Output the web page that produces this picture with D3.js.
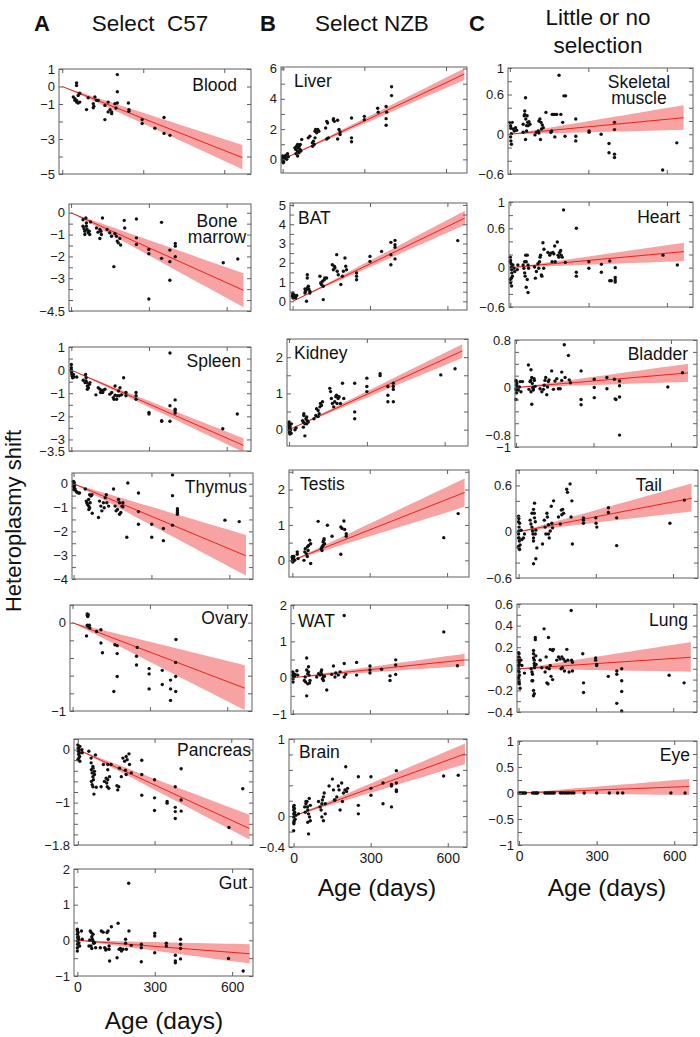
<!DOCTYPE html>
<html><head><meta charset="utf-8">
<script src="https://cdn.jsdelivr.net/npm/d3@7"></script>
<style>body{margin:0;background:#fff}svg{display:block;font-family:"Liberation Sans",Arial,sans-serif}</style>
</head><body><svg id="c" width="700" height="1037"></svg>
<script>
// ---------------- DATA ----------------
const panelNames = ["Blood","Bone\nmarrow","Spleen","Thymus","Ovary","Pancreas","Gut",
  "Liver","BAT","Kidney","Testis","WAT","Brain",
  "Skeletal\nmuscle","Heart","Bladder","Tail","Lung","Eye"];

const blood = [[53,0.21],[53,0.06],[41,-0.6],[47,-0.7],[53,-0.79],[59,-0.51],[63,-0.42],[65,-0.38],[53,-0.89],[59,-0.94],[65,-0.89],[47,-0.79],[90,-1.32],[96,-0.64],[115,-0.98],[115,-1.21],[117,-1.13],[121,-0.6],[127,-0.79],[133,-0.79],[158,-1.08],[158,-1.89],[170,-0.89],[170,-1.45],[177,-1.32],[183,-1.45],[183,-1.55],[195,-0.98],[199,-1.23],[204,0.68],[204,-0.3],[204,-0.94],[245,-0.94],[247,-1.32],[247,-1.42],[296,-1.89],[296,-2.11],[343,-2.38],[377,-1.77],[377,-2.68],[399,-2.79]];
const boneMarrow = [[57,-0.24],[46,-0.32],[46,-0.62],[50,-0.73],[53,-0.85],[59,-0.62],[62,-0.77],[66,-0.92],[70,-0.85],[72,-1.0],[59,-0.47],[53,-1.0],[75,-0.42],[98,-0.7],[104,-0.89],[111,-0.77],[115,-0.85],[117,-1.0],[111,-1.18],[121,-0.24],[139,-0.77],[149,-0.92],[156,-1.08],[169,-0.95],[175,-1.08],[178,-1.3],[188,-1.18],[182,-1.38],[191,-1.48],[205,-0.35],[207,-0.7],[252,-0.29],[252,-1.15],[252,-1.45],[349,-0.44],[402,-1.41],[402,-1.53],[300,-1.68],[300,-1.88],[349,-2.09],[381,-1.71],[381,-2.24],[381,-3.09],[402,-2.01],[165,-2.47],[300,-3.95],[587,-2.29],[643,-2.12]];
const spleen = [[0,0.24],[0,0.1],[0,0],[1,-0.07],[2,-0.16],[3,-0.21],[4,-0.27],[5,-0.33],[8,-0.19],[10,-0.3],[21,-0.3],[46,-0.44],[53,-0.54],[55,-0.19],[57,-0.33],[59,-0.54],[62,-0.69],[66,-0.76],[70,-0.61],[72,-0.54],[62,-0.83],[57,-0.47],[95,-1.07],[104,-0.76],[111,-0.83],[113,-0.97],[117,-0.9],[124,-0.87],[130,-0.83],[121,-0.97],[149,-1.04],[156,-0.97],[162,-1.19],[165,-1.26],[169,-1.09],[178,-1.11],[182,-0.9],[185,-1.11],[188,-0.76],[169,-0.69],[175,-1.26],[194,-1.07],[202,-0.33],[211,-0.97],[211,-1.11],[250,-0.97],[250,-1.11],[250,-1.26],[300,-1.83],[300,-1.9],[349,-2.19],[349,-2.21],[381,0.74],[381,-1.54],[381,-2.21],[401,-1.29],[401,-1.69],[401,-1.76],[401,-1.86],[585,-2.54],[641,-1.9]];
const thymus = [[0,0.1],[0,0.03],[1,-0.04],[0,-0.11],[2,-0.18],[1,-0.25],[3,0.03],[4,-0.08],[6,-0.22],[10,-0.32],[13,-0.36],[19,-0.39],[23,-0.39],[45,-0.22],[49,-0.73],[51,-0.8],[54,-0.87],[58,-0.66],[58,-0.94],[62,-1.01],[64,-0.8],[67,-0.52],[71,-0.46],[62,-0.46],[59,-1.08],[72,-1.24],[96,-1.42],[100,-0.73],[105,-0.94],[109,-1.14],[115,-0.8],[118,-1.01],[122,-0.59],[126,-0.46],[128,-0.8],[135,-0.94],[154,-0.22],[160,-0.94],[164,-1.14],[169,-1.08],[173,-0.66],[177,-0.8],[177,-1.28],[182,-1.21],[186,-0.94],[190,-0.8],[190,-0.97],[205,-2.25],[209,0.03],[250,-0.39],[250,-1.17],[250,-1.7],[301,-1.7],[301,-2.25],[346,-1.88],[346,-2.39],[381,0.37],[381,-0.5],[381,-1.74],[400,-1.05],[400,-1.14],[400,-1.21],[400,-1.28],[583,-1.53],[638,-1.59]];
const ovary = [[57,0.1],[57,0.08],[59,0.07],[61,0.09],[57,-0.03],[61,-0.04],[65,-0.03],[67,-0.06],[54,-0.15],[93,-0.1],[110,-0.08],[110,-0.23],[164,-0.25],[173,-0.26],[251,-0.28],[401,-0.19],[116,-0.34],[173,-0.35],[173,-0.61],[160,-0.78],[248,-0.38],[248,-0.48],[297,-0.52],[297,-0.58],[297,-0.75],[348,-0.54],[348,-0.7],[380,-0.65],[380,-0.75],[380,-0.88],[400,-0.45],[400,-0.61],[400,-0.78]];
const pancreas = [[0,0.09],[1,0.03],[2,-0.03],[3,-0.09],[4,-0.16],[5,0],[6,-0.06],[7,-0.13],[0,-0.19],[8,0.06],[8,-0.22],[16,0],[17,-0.06],[43,-0.03],[52,-0.16],[59,-0.32],[53,-0.38],[56,-0.44],[59,-0.51],[61,-0.57],[53,-0.6],[56,-0.66],[59,-0.7],[63,-0.84],[65,-0.41],[52,-0.25],[59,-0.35],[65,-0.47],[72,-0.71],[69,-0.1],[91,-0.7],[100,-0.28],[104,-0.6],[111,-0.54],[113,-0.63],[117,-0.57],[115,-0.7],[121,-0.73],[124,-0.51],[117,-0.28],[117,-0.38],[130,-0.28],[153,-0.68],[156,-0.76],[160,-0.7],[163,-0.35],[170,-0.51],[176,-0.16],[183,-0.22],[189,-0.13],[193,-0.19],[200,-0.08],[202,-0.28],[209,-0.44],[189,-0.47],[186,-0.39],[250,-0.2],[250,-0.47],[250,-0.86],[300,-0.57],[300,-0.91],[300,-1.15],[349,-0.98],[349,-1.01],[381,-0.7],[381,-1.09],[381,-1.17],[381,-1.3],[404,-0.36],[404,-0.95],[404,-1.16],[591,-1.47],[645,-0.74]];
const gut = [[0,0.26],[0,0.17],[1,0.08],[0,-0.02],[1,-0.11],[0,-0.21],[0,-0.3],[3,0.22],[4,0.1],[5,0.03],[6,-0.07],[9,-0.16],[0,0.31],[16,0.26],[19,0.03],[48,0.01],[50,0.26],[54,0.22],[56,0.1],[58,0.03],[61,-0.02],[63,-0.08],[53,-0.16],[56,-0.23],[61,0.17],[67,-0.07],[71,-0.21],[45,-0.16],[89,-0.21],[93,0.26],[100,0.23],[106,-0.21],[110,-0.27],[112,-0.25],[115,0.22],[119,0.26],[120,0.03],[123,-0.25],[125,-0.58],[132,0.38],[123,-0.16],[154,-0.49],[158,0.48],[162,-0.25],[167,-0.23],[171,-0.3],[177,-0.25],[187,0.03],[187,-0.08],[190,-0.25],[199,1.6],[200,0.26],[209,-0.14],[248,-0.11],[248,-0.21],[248,-0.6],[300,0.2],[300,0.12],[300,-0.35],[345,-0.08],[345,-0.16],[380,-0.42],[380,-0.58],[380,-0.63],[400,0.03],[400,-0.11],[400,-0.23],[400,-0.52],[586,-0.51],[643,-0.86]];
const liver = [[0,0.22],[0,0.11],[0,0],[1,-0.11],[4,-0.17],[6,0.04],[9,0.17],[11,0.26],[0,-0.11],[2,-0.22],[15,0],[18,0.37],[21,0.17],[45,0.76],[48,0.66],[51,0.87],[54,0.55],[55,0.98],[58,0.76],[60,0.44],[64,0.66],[61,0.87],[65,0.98],[67,0.55],[70,1.31],[55,0.22],[49,0.37],[94,1.42],[100,1.53],[109,1.09],[110,0.87],[113,1.2],[116,0.98],[119,1.86],[121,1.97],[125,1.75],[129,1.97],[133,1.86],[119,1.42],[162,2.51],[162,1.35],[165,2.4],[168,1.42],[158,2.07],[186,2.62],[187,2.69],[190,2.51],[202,2.58],[202,1.35],[207,1.97],[211,1.81],[211,1.64],[253,2.73],[253,1.42],[253,1.16],[300,2.84],[300,2.62],[349,3.38],[351,3.12],[380,3.49],[382,3.12],[380,2.69],[380,2.25],[400,4.8],[400,4.21]];
const bat = [[0,0.26],[1,0.35],[2,0.17],[2,0.3],[3,0.23],[6,0.33],[9,0.26],[12,0.17],[1,0.43],[16,0.3],[54,0],[48,0.43],[50,0.52],[54,0.61],[58,0.69],[61,0.78],[63,0.64],[67,0.52],[48,0.64],[57,1.38],[57,1.21],[67,0.43],[106,1.3],[109,0.95],[112,0.87],[116,1.04],[119,0.09],[123,1.12],[125,1.21],[119,0.78],[132,1.21],[154,1.9],[158,1.64],[162,1.82],[164,1.73],[171,2.42],[173,1.56],[177,1.38],[187,0.87],[193,1.3],[203,2.25],[206,1.82],[209,1.64],[197,1.56],[248,1.47],[248,1.3],[248,1.12],[300,2.33],[300,2.07],[345,2.59],[381,2.42],[381,1.9],[397,2.2],[381,3.06],[397,3.16],[397,2.94],[397,2.8],[640,3.15]];
const kidney = [[0,0.16],[0,0.11],[1,0.07],[1,0.02],[2,-0.03],[2,-0.07],[3,-0.12],[4,0.08],[6,-0.01],[9,0.16],[0,0.21],[8,-0.1],[23,0],[27,0.05],[52,0.25],[55,0.21],[57,0.39],[61,0.16],[65,0.3],[68,0.35],[70,0.25],[74,0.21],[55,0.07],[61,-0.17],[57,0.44],[68,0.16],[96,0.3],[103,0.39],[106,0.58],[112,0.53],[116,0.44],[119,0.63],[121,0.72],[125,0.67],[129,0.77],[112,0.36],[157,1.14],[160,1.05],[163,0.86],[167,0.72],[172,0.63],[176,0.77],[180,0.91],[183,0.95],[189,0.86],[193,0.91],[198,0.72],[206,1.28],[211,0.86],[185,0.72],[253,1.28],[253,0.49],[253,0.3],[300,1.42],[300,1.19],[300,1.05],[351,1.54],[351,1.49],[381,1.19],[381,0.95],[381,0.77],[402,1.28],[402,1.19],[402,1.11],[402,0.77],[585,1.51],[640,1.68]];
const testis = [[0,0.11],[0,0.08],[1,0.05],[2,0.02],[1,0.09],[4,0.05],[6,0.11],[9,0],[0,-0.02],[2,-0.05],[19,0.24],[19,0.17],[22,0.05],[45,0],[48,0.24],[50,0.33],[54,0.19],[58,0.38],[61,0.28],[63,0.42],[67,0.57],[71,0.47],[71,-0.09],[58,0.11],[100,1.1],[112,0.33],[115,0.38],[119,0.42],[119,0.52],[122,0.57],[125,0.47],[123,0.61],[115,0.28],[136,0.99],[154,0.68],[188,0.94],[188,0.17],[193,0.9],[200,1.11],[203,0.87],[209,0.75],[209,0.68],[587,0.64],[643,1.32]];
const wat = [[0,0.16],[0,0.07],[1,-0.03],[2,0.02],[3,0.11],[6,0.04],[9,0.09],[1,-0.12],[16,0.19],[19,0.07],[48,0.02],[50,-0.12],[54,0.54],[54,0.21],[58,0.11],[61,0.16],[63,0.07],[67,-0.08],[58,-0.17],[54,-0.5],[61,0.3],[45,-0.08],[65,-0.15],[93,0.02],[100,0.11],[106,0.07],[110,0.16],[112,0.09],[115,-0.03],[119,0.02],[119,-0.08],[112,0.21],[132,-0.34],[123,0.04],[151,0.09],[158,0.32],[164,0.02],[167,0.13],[177,0.07],[184,0.16],[200,0.39],[206,0.09],[200,0.02],[248,0.42],[248,0.07],[300,0.32],[300,0.21],[300,0.13],[345,0.23],[378,0.05],[378,-0.08],[400,0.49],[400,0.35],[400,0.09],[640,0.33],[200,1.71],[587,1.26]];
const brain = [[0,0.12],[0,0.08],[1,0.03],[0,-0.01],[2,-0.06],[1,-0.1],[2,0.03],[3,0.1],[4,0.05],[6,-0.04],[0,-0.19],[9,0.01],[1,-0.08],[2,0.14],[19,0.03],[43,0.12],[45,0.05],[48,0.16],[52,0.19],[54,0.12],[55,0.08],[58,0.03],[61,0.23],[62,-0.01],[65,-0.06],[55,-0.08],[58,-0.23],[48,0.19],[65,0.14],[97,0.19],[103,0.12],[107,0.08],[110,0.16],[112,0.21],[116,0.25],[119,0.3],[116,-0.06],[123,0.03],[123,0.16],[110,-0.01],[138,0.39],[151,0.48],[155,0.34],[159,0.21],[161,0.21],[168,0.25],[174,0.39],[177,0.34],[181,0.08],[187,0.43],[190,0.19],[194,0.3],[200,0.34],[203,0.64],[210,0.36],[206,0.32],[252,0.51],[252,0.14],[252,0.03],[301,0.51],[301,0.36],[301,0.27],[348,0.43],[348,0.16],[381,0.41],[381,0.39],[381,0.12],[400,0.59],[400,0.43],[400,0.34],[400,0.32],[584,0.52],[641,0.53]];
const skeletal = [[0,0.18],[3,0.13],[4,0.09],[6,0.01],[3,-0.04],[4,-0.1],[6,-0.15],[9,0.18],[13,0.08],[17,0.05],[22,0.1],[26,0.06],[51,0.15],[55,0.28],[57,0.35],[57,0.3],[60,0.55],[61,0.23],[64,0.13],[64,0.05],[66,0.28],[68,0.18],[70,0.13],[60,-0.08],[51,0.03],[73,0.19],[77,0.15],[96,-0.01],[102,0.03],[109,0.05],[111,0.2],[115,0.23],[119,0.18],[121,0.08],[124,0.14],[128,0.1],[117,-0.08],[138,0.33],[111,0.02],[157,0.03],[162,0.3],[166,0.3],[172,0.3],[179,0.3],[188,0.89],[195,0.3],[202,0.18],[207,0.58],[213,0.58],[172,-0.04],[211,-0.03],[160,0.05],[252,0.23],[252,-0.03],[252,-0.1],[303,0.05],[303,0.03],[349,0],[379,-0.14],[379,-0.28],[400,0.18],[400,0.07],[400,-0.3],[400,-0.35],[584,-0.54],[638,-0.13]];
const heart = [[0,0.16],[1,0.11],[3,0.06],[4,0.01],[5,-0.03],[6,-0.08],[8,-0.13],[0,-0.18],[1,-0.23],[4,-0.16],[10,0.04],[14,-0.01],[17,-0.06],[0,0.09],[27,-0.03],[29,0.04],[5,-0.28],[49,0.04],[52,-0.01],[55,-0.08],[57,-0.13],[59,0.19],[61,0.09],[65,0.19],[65,-0.18],[68,0.04],[61,-0.3],[68,-0.38],[70,-0.01],[55,0.09],[93,0.01],[96,-0.16],[100,-0.06],[106,0.06],[109,-0.01],[112,0.09],[116,0.19],[119,-0.11],[121,-0.13],[125,0.38],[129,0.28],[114,0.16],[128,-0.01],[144,0.23],[151,0.19],[155,0.22],[160,0.09],[163,0.23],[167,0.21],[170,0.33],[172,0.09],[180,0.39],[183,0.19],[189,0.23],[193,0.26],[195,0.19],[199,0.16],[204,0.88],[211,0.08],[186,0.16],[253,0.6],[253,-0.07],[253,-0.13],[301,0.09],[301,-0.01],[349,0.05],[349,-0.07],[381,0.1],[381,-0.2],[387,-0.2],[402,0],[402,-0.15],[402,-0.19],[402,-0.22],[585,0.19],[640,0.04]];
const bladder = [[0,0.12],[1,0.1],[2,0.04],[0,-0.02],[1,-0.04],[2,-0.09],[3,0.07],[0,-0.2],[6,0],[9,-0.04],[13,0.01],[16,0.1],[19,-0.07],[25,0.1],[48,0.38],[50,-0.03],[54,0.1],[57,0.12],[58,0.3],[61,0.17],[63,0.07],[65,0],[67,-0.04],[70,0.15],[61,-0.28],[67,-0.02],[74,0.02],[58,-0.07],[71,0.12],[93,-0.02],[100,-0.07],[106,-0.03],[109,0.04],[112,0.12],[115,0.17],[119,-0.12],[122,0.01],[125,0.1],[128,0.13],[138,0.28],[145,-0.03],[151,0.11],[158,0.15],[164,-0.02],[171,-0.02],[177,0.26],[177,0.12],[187,0.72],[190,0.17],[203,0.54],[206,0.13],[211,0.08],[252,0.28],[252,-0.2],[252,-0.29],[303,0.14],[303,0],[303,-0.17],[352,0.17],[352,-0.02],[381,0.14],[384,-0.19],[387,-0.2],[401,0.11],[401,0.03],[401,-0.16],[401,-0.8],[588,0.01],[645,0.25]];
const tail = [[0,0.2],[1,0.17],[0,0.13],[2,0.06],[1,0.01],[0,-0.03],[2,-0.08],[3,-0.12],[0,-0.19],[1,-0.21],[4,-0.23],[6,-0.17],[0,-0.08],[13,-0.1],[10,0.02],[19,-0.08],[23,-0.03],[4,0.11],[45,0.15],[48,0.1],[52,0.06],[54,0.01],[56,-0.03],[58,-0.08],[58,0.29],[61,0.24],[62,0.18],[65,0.13],[65,-0.03],[52,0.24],[67,0.02],[71,-0.21],[67,-0.35],[58,-0.415],[58,-0.12],[62,0.37],[93,-0.16],[100,0.15],[103,0.06],[106,-0.03],[110,0.24],[112,0.19],[116,-0.03],[119,-0.08],[116,0.09],[123,0.01],[127,0.33],[129,0.11],[136,0.4],[132,0.05],[155,0.19],[162,0.1],[166,0.28],[168,0.22],[171,0.29],[175,0.24],[187,0.55],[190,0.51],[200,0.62],[207,0.4],[209,-0.16],[204,0.19],[252,0.18],[252,0.15],[252,0.11],[300,0.18],[301,0.11],[304,0.06],[349,0.31],[349,0.25],[381,0.18],[381,-0.18],[588,0.11],[644,0.41]];
const lung = [[0,0.11],[1,0.09],[0,0.08],[2,0.06],[3,0.04],[0,0.03],[1,0],[0,-0.02],[2,-0.03],[3,-0.06],[0,-0.08],[1,-0.1],[2,-0.12],[3,-0.14],[6,-0.18],[0,0.15],[2,0.14],[4,0.1],[9,0.08],[1,-0.13],[23,-0.04],[13,0.03],[49,0],[52,-0.03],[54,-0.05],[55,-0.11],[58,0.17],[58,0.14],[58,0.1],[61,0.08],[61,0.05],[62,0.03],[62,0.01],[65,0.29],[65,0.27],[67,0.12],[58,-0.2],[61,-0.23],[58,-0.25],[68,0.04],[52,-0.11],[84,0.08],[90,0.01],[99,0.37],[103,-0.03],[107,0.11],[110,0.01],[114,-0.14],[116,0.29],[119,0],[123,0.03],[123,0.18],[126,-0.07],[132,0.17],[135,0.18],[132,-0.1],[110,-0.13],[148,0.08],[155,0.11],[161,0.09],[165,0],[168,0.11],[170,0.01],[174,0.09],[178,-0.02],[181,0.07],[187,0.18],[191,0.08],[196,-0.03],[204,0.54],[206,0.08],[209,-0.02],[209,0.06],[249,0.14],[252,-0.13],[252,-0.22],[299,0.1],[299,0.08],[303,0.04],[303,0.03],[348,-0.07],[381,-0.02],[381,-0.05],[381,-0.32],[400,0],[400,-0.11],[400,-0.21],[400,-0.39],[584,-0.06],[642,-0.13]];
const eye = [[0,0],[5,0],[10,0],[15,0],[20,0],[25,0],[52,0],[58,0],[63,0],[68,0],[72,0],[100,0],[105,0],[112,0],[118,0],[124,0],[130,0],[136,0],[160,0],[168,0],[177,0],[185,0],[193,0],[203,0],[212,0],[252,0],[300,0],[349,0],[381,0],[401,0],[587,0],[642,0]];

const panelData = [blood, boneMarrow, spleen, thymus, ovary, pancreas, gut,
  liver, bat, kidney, testis, wat, brain,
  skeletal, heart, bladder, tail, lung, eye];

// regression through origin: end age, slope, lower / upper slope of the band
const fitEnd   = [667,665,665,664,668,671,668, 667,668,668,668,668,667, 664,665,666,672,668,658];
const fitSlope = [-0.00609,-0.00534,-0.0049,-0.00456,-0.00111,-0.00222,-0.000563, 0.00844,0.00647,0.00325,0.00287,0.000733,0.00121, 0.000376,0.000367,0.00037,0.000645,0.00016,0.00019];
const fitLo    = [-0.00708,-0.00651,-0.00534,-0.00581,-0.00148,-0.00253,-0.000973, 0.00786,0.00594,0.00296,0.00226,0.000479,0.00101, 0.0001,0.00015,0.000144,0.00039,-0.00004,-0.00006];
const fitHi    = [-0.00501,-0.00417,-0.00444,-0.00324,-0.00072,-0.00183,-0.000165, 0.009,0.00704,0.00353,0.00346,0.000988,0.00141, 0.00066,0.00057,0.0006,0.00093,0.00037,0.00041];

const yDomains = [[-5,1],[-4.5,0.4],[-3.5,1],[-4,0.45],[-1,0.2],[-1.8,0.2],[-1,2],
  [-0.9,6.1],[-0.45,5.1],[-0.45,2.5],[-0.47,2.55],[-1,2],[-0.4,1],
  [-0.6,1],[-0.6,1],[-1,0.8],[-0.6,0.8],[-0.4,0.6],[-1,1]];
const yTickStep = [1,0.5,0.5,0.5,0.2,0.2,0.5, 1,0.5,0.5,0.5,0.5,0.2, 0.2,0.2,0.2,0.2,0.1,0.25];
const yTickLabels = [[1,0,-1,-3,-5],[0,-1,-2,-3,-4.5],[1,0,-1,-2,-3,-3.5],[0,-1,-2,-3,-4],[0,-1],[0,-1,-1.8],[2,1,0,-1],
  [6,4,2,0],[5,4,3,2,1,0],[2,1,0],[2,1,0],[2,1,0,-1],[1,0,-0.4],
  [1,0.6,0,-0.6],[1,0.6,0,-0.6],[0.8,0,-0.8,-1],[0.6,0,-0.6],[0.6,0.4,0.2,0,-0.2,-0.4],[1,0.5,0,-0.5,-1]];
const xTicks = [0,300,600];
const columnTitles = ["Select  C57","Select NZB","Little or no\nselection"];
const columnLetters = ["A","B","C"];
const xTitle = "Age (days)";
const yTitle = "Heteroplasmy shift";

// ---------------- LAYOUT ----------------
const boxes = [[59,69,251,174],[69,204,251,311],[69,347,251,451],[72,473,253,579],[70,605,252,711],[74,739,253,845],[74,869,253,976],
  [281,67,467,173],[290,203,467,310],[287,339,468,446],[289,470,469,577],[291,605,469,714],[289,739,467,847],
  [508,68,693,174],[509,202,693,307],[515,340,697,447],[516,470,698,578],[517,604,697,712],[518,741,697,845]];
const xDoms = [[-12,699],[-8,694],[-9,694],[-6,691],[-10,696],[-15,685],[-13,681],
  [-6,677],[-10,676],[-8,690],[-13,685],[-7,685],[-18,675],
  [-7,700],[-5,700],[-4,701],[-10,697],[-6,692],[-4,688]];
const labelPos = [[237,91,"end"],[217,227,"middle"],[241,367,"end"],[247,493,"end"],[248,624,"end"],[251,756,"end"],[247,889,"end"],
  [294,87,"start"],[298,224,"start"],[294,359,"start"],[300,490,"start"],[298,627,"start"],[299,758,"start"],
  [639,88,"middle"],[680,223,"end"],[688,360,"end"],[662,491,"end"],[688,626,"end"],[690,761,"end"]];
const bottomPanels = [6,12,18];

const svg = d3.select("#c");
const fmt = v => (v < 0 ? "\u2212" : "") + String(Math.abs(v));
const frameCol = "#5f5f5f";

panelData.forEach((data, i) => {
  const [L,T,R,B] = boxes[i];
  const x = d3.scaleLinear().domain(xDoms[i]).range([L,R]);
  const y = d3.scaleLinear().domain(yDomains[i]).range([B,T]);
  const g = svg.append("g");
  const clipId = "clip"+i;
  svg.append("clipPath").attr("id",clipId).append("rect").attr("x",L).attr("y",T).attr("width",R-L).attr("height",B-T);

  const xs = d3.range(0, fitEnd[i]+0.1, fitEnd[i]/20);
  const area = d3.area().x(d=>x(d)).y0(d=>y(d*fitLo[i])).y1(d=>y(d*fitHi[i]));
  g.append("path").datum(xs).attr("d",area).attr("fill","#f7a3a3").attr("clip-path",`url(#${clipId})`);
  g.append("line").attr("x1",x(0)).attr("y1",y(0)).attr("x2",x(fitEnd[i])).attr("y2",y(fitEnd[i]*fitSlope[i]))
    .attr("stroke","#e8231b").attr("stroke-width",1);

  g.selectAll("circle.p").data(data).join("circle").attr("class","p")
    .attr("cx",d=>x(d[0])).attr("cy",d=>y(d[1])).attr("r",1.7).attr("fill","#111");

  g.append("rect").attr("x",L).attr("y",T).attr("width",R-L).attr("height",B-T)
    .attr("fill","none").attr("stroke",frameCol).attr("stroke-width",1);

  const [y0,y1] = yDomains[i];
  const st = yTickStep[i];
  const tv = d3.range(Math.ceil(y0/st-1e-6), Math.floor(y1/st+1e-6)+1).map(k=>+(k*st).toFixed(4));
  g.append("g").attr("transform",`translate(${L},0)`).call(d3.axisRight(y).tickValues(tv).tickSize(4).tickFormat(""))
    .call(a=>{a.select(".domain").remove(); a.selectAll("line").attr("stroke",frameCol);});
  g.append("g").attr("transform",`translate(${R},0)`).call(d3.axisLeft(y).tickValues(tv).tickSize(4).tickFormat(""))
    .call(a=>{a.select(".domain").remove(); a.selectAll("line").attr("stroke",frameCol);});
  g.append("g").attr("transform",`translate(${L},0)`).call(d3.axisLeft(y).tickValues(yTickLabels[i]).tickSize(0).tickPadding(4).tickFormat(fmt))
    .call(a=>{a.select(".domain").remove(); a.selectAll("text").attr("font-size",13).attr("fill","#1a1a1a").attr("font-family","Liberation Sans, Arial");});

  g.append("g").attr("transform",`translate(0,${B})`).call(d3.axisTop(x).tickValues(xTicks).tickSize(4).tickFormat(""))
    .call(a=>{a.select(".domain").remove(); a.selectAll("line").attr("stroke",frameCol);});
  g.append("g").attr("transform",`translate(0,${T})`).call(d3.axisBottom(x).tickValues(xTicks).tickSize(4).tickFormat(""))
    .call(a=>{a.select(".domain").remove(); a.selectAll("line").attr("stroke",frameCol);});
  if (bottomPanels.includes(i)) {
    g.append("g").attr("transform",`translate(0,${B})`).call(d3.axisBottom(x).tickValues(xTicks).tickSize(0).tickPadding(6).tickFormat(d=>String(d)))
      .call(a=>{a.select(".domain").remove(); a.selectAll("text").attr("font-size",14).attr("fill","#1a1a1a").attr("font-family","Liberation Sans, Arial");});
  }

  const [lx,ly,anc] = labelPos[i];
  const lines = panelNames[i].split("\n");
  const t = g.append("text").attr("font-size",17.5).attr("fill","#111").attr("text-anchor",anc);
  if (lines.length === 1) t.attr("x",lx).attr("y",ly).text(lines[0]);
  else lines.forEach((s,k)=>t.append("tspan").attr("x",lx).attr("y",ly+k*16).text(s));
});

const colCenters = [150,372,598];
const letterX = [42,268,477];
columnLetters.forEach((c,k)=>{
  svg.append("text").attr("x",letterX[k]).attr("y",31).attr("text-anchor","middle")
    .attr("font-size",22).attr("font-weight","bold").attr("fill","#111").text(c);
  const lines = columnTitles[k].split("\n");
  lines.forEach((s,j)=>{
    svg.append("text").attr("x",colCenters[k]).attr("y",lines.length>1 ? 25+j*28 : 31).attr("text-anchor","middle")
      .attr("font-size",22.5).attr("fill","#111").style("white-space","pre").text(s);
  });
});
[[164,1029],[377,896],[607,896]].forEach(([cx,cy])=>{
  svg.append("text").attr("x",cx).attr("y",cy).attr("text-anchor","middle").attr("font-size",24.5).attr("fill","#111").text(xTitle);
});
svg.append("text").attr("transform","translate(21,521) rotate(-90)").attr("text-anchor","middle")
  .attr("font-size",22).attr("fill","#111").text(yTitle);
</script></body></html>
